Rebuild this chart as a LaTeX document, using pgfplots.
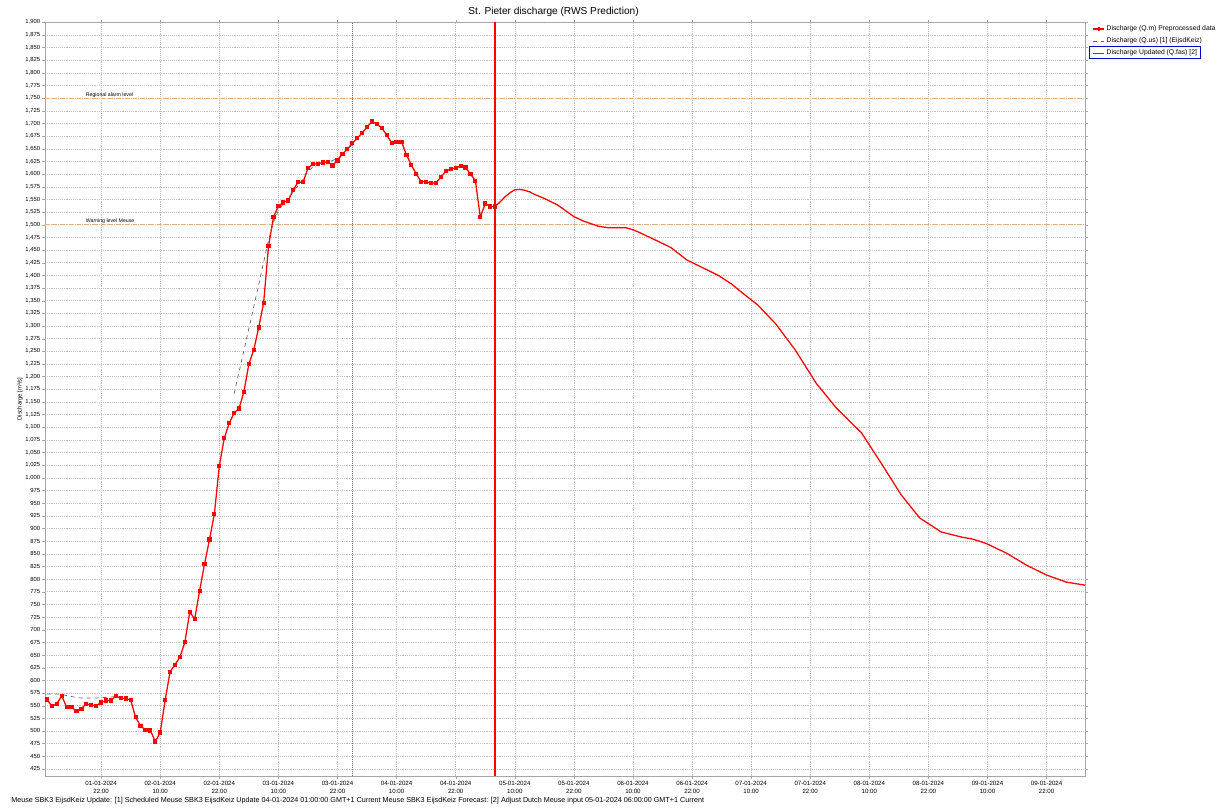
\documentclass[border=0pt]{standalone}
\usepackage{fontspec}
\setmainfont{Liberation Sans}
\usepackage{pgfplots}
\pgfplotsset{compat=1.18}
\definecolor{thr}{RGB}{240,170,110}
\definecolor{gridc}{RGB}{195,195,195}
\begin{document}
\begin{tikzpicture}
\path[use as bounding box] (-33.75pt,-24.75pt) rectangle (886.5pt,582pt);
\begin{axis}[
  at={(0,0)}, anchor=south west,
  scale only axis, width=780pt, height=565.3pt,
  xmin=10.6, xmax=221.8, ymin=411, ymax=1900,
  axis line style={gray!70},
  tick style={gray!70},
  tick align=outside,
  major tick length=2pt,
  xtick={22,34,...,214},
  xticklabels={01-01-2024\\22:00,02-01-2024\\10:00,02-01-2024\\22:00,03-01-2024\\10:00,03-01-2024\\22:00,04-01-2024\\10:00,04-01-2024\\22:00,05-01-2024\\10:00,05-01-2024\\22:00,06-01-2024\\10:00,06-01-2024\\22:00,07-01-2024\\10:00,07-01-2024\\22:00,08-01-2024\\10:00,08-01-2024\\22:00,09-01-2024\\10:00,09-01-2024\\22:00},
  xticklabel style={align=center, font=\fontsize{4.6}{6.5}\selectfont, inner sep=1.5pt},
  ytick={425,450,...,1900},
  yticklabel style={font=\fontsize{4.4}{5}\selectfont, inner sep=1.5pt},
  /pgf/number format/assume math mode=true,
  /pgf/number format/1000 sep={,},
  grid=major,
  major grid style={gridc, densely dotted, line width=0.4pt},
  title={St. Pieter discharge (RWS Prediction)},
  title style={at={(0.489,1)}, anchor=south, font=\fontsize{7.6}{9}\selectfont, inner sep=3pt, yshift=-5.25pt},
  ylabel={Discharge [m³/s]},
  ylabel style={at={(axis description cs:-0.024,0.5)}, anchor=center, font=\fontsize{4.4}{5}\selectfont},
  legend style={at={(1.006,1.0)}, anchor=north west, draw=none, fill=none,
    font=\fontsize{5.1}{6}\selectfont, row sep=1.5pt, inner sep=1pt,
    nodes={inner sep=1.2pt}},
  legend image post style={xscale=0.48},
  legend cell align=left,
  clip=true,
]
% thresholds
\addplot[draw=thr, dashed, line width=0.7pt, forget plot] coordinates {(10.6,1750) (221.8,1750)};
\addplot[draw=thr, dashed, line width=0.7pt, forget plot] coordinates {(10.6,1500) (221.8,1500)};
% update time lines
\addplot[draw=gray!80!black, densely dotted, line width=0.5pt, forget plot] coordinates {(73,411) (73,1900)};
\addplot[draw=red, color=red, line width=0.9pt, forget plot] coordinates {(102,411) (102,1900)};

\node[anchor=south west, inner sep=0.6pt, font=\fontsize{3.9}{4}\selectfont] at (axis cs:18.7,1750) {Regional alarm level};
\node[anchor=south west, inner sep=0.6pt, font=\fontsize{3.9}{4}\selectfont] at (axis cs:18.7,1500) {Warning level Meuse};

% Preprocessed data
\addplot[color=red, draw=red, line width=0.95pt, mark=square*, mark size=1.1pt, mark options={solid, fill=red, draw=red}] coordinates {
(11,562) (12,549) (13,554) (14,569) (15,547) (16,547) (17,539) (18,544) (19,554) (20,551)
(21,550) (22,556) (23,560) (24,560) (25,569) (26,565) (27,564) (28,561) (29,527) (30,510)
(31,502) (32,501) (33,479) (34,497) (35,561) (36,617) (37,631) (38,646) (39,675) (40,735)
(41,721) (42,777) (43,830) (44,878) (45,929) (46,1024) (47,1078) (48,1108) (49,1128) (50,1137)
(51,1170) (52,1225) (53,1253) (54,1297) (55,1346) (56,1458) (57,1515) (58,1537) (59,1544) (60,1548)
(61,1569) (62,1584) (63,1584) (64,1612) (65,1620) (66,1620) (67,1623) (68,1624) (69,1617) (70,1627)
(71,1640) (72,1649) (73,1661) (74,1671) (75,1681) (76,1693) (77,1704) (78,1699) (79,1691) (80,1677)
(81,1662) (82,1663) (83,1664) (84,1638) (85,1618) (86,1600) (87,1585) (88,1585) (89,1582) (90,1583)
(91,1594) (92,1606) (93,1610) (94,1612) (95,1616) (96,1613) (97,1600) (98,1587) (99,1515) (100,1542)
(101,1536) (102,1536)
};
\addlegendentry{Discharge (Q.m) Preprocessed data}

% Q.us [1]
\addplot[color=gray!75!black, draw=gray!75!black, dashed, line width=0.5pt, unbounded coords=jump] coordinates {
(11,573) (12,573) (13,573) (14,572) (15,570) (16,568) (17,566) (18,565) (19,565) (20,565)
(21,565) (22,566) (23,566) (24,567) (25,568)
(25.5,nan)
(49,1166) (50,1209) (51,1252) (52,1295) (53,1338) (54,1382) (55,1426) (56,1470) (57,1505) (58,1528)
(59,1542) (60,1552) (61,1565) (62,1578) (63,1590) (64,1605) (65,1614) (66,1619) (67,1622) (68,1625)
(69,1627) (70,1631) (71,1640) (72,1649) (73,1658)
};
\addlegendentry{Discharge (Q.us) [1] (EijsdKeiz)}

% Updated forecast [2]
\addplot[color=red, draw=red, line width=0.95pt] coordinates {
(102,1536) (103,1545) (104,1555) (105,1563) (106,1569) (107,1570) (108,1568) (109,1565) (110,1560)
(112,1552) (114.7,1539) (116,1530) (118,1516) (120,1507) (121.5,1502) (123,1497) (125,1494)
(128.6,1494) (130,1490) (131,1486) (134.3,1471) (137.7,1455) (141,1430) (144.4,1414) (147.5,1399)
(150,1383) (152,1367) (155.4,1341) (159,1304) (163,1252) (167.2,1187) (171.3,1138) (176.4,1089)
(180.4,1029) (184.5,966) (188.2,921) (192.6,893) (196.7,883) (199,879) (201.8,870) (205.9,851)
(210,827) (214,808) (218,794) (221.8,788)
};
\addlegendentry{Discharge Updated (Q.fas) [2]}
\end{axis}
\draw[blue!80!black, line width=0.5pt] (783.5pt,547.5pt) rectangle (866.5pt,538.5pt);
\node[anchor=west, inner sep=0pt, font=\fontsize{5.4}{6}\selectfont] at (-25.5pt,-18.75pt) {Meuse SBK3 EijsdKeiz Update: [1] Scheduled Meuse SBK3 EijsdKeiz Update 04-01-2024 01:00:00 GMT+1 Current Meuse SBK3 EijsdKeiz Forecast: [2] Adjust Dutch Meuse input 05-01-2024 06:00:00 GMT+1 Current};
\end{tikzpicture}
\end{document}
